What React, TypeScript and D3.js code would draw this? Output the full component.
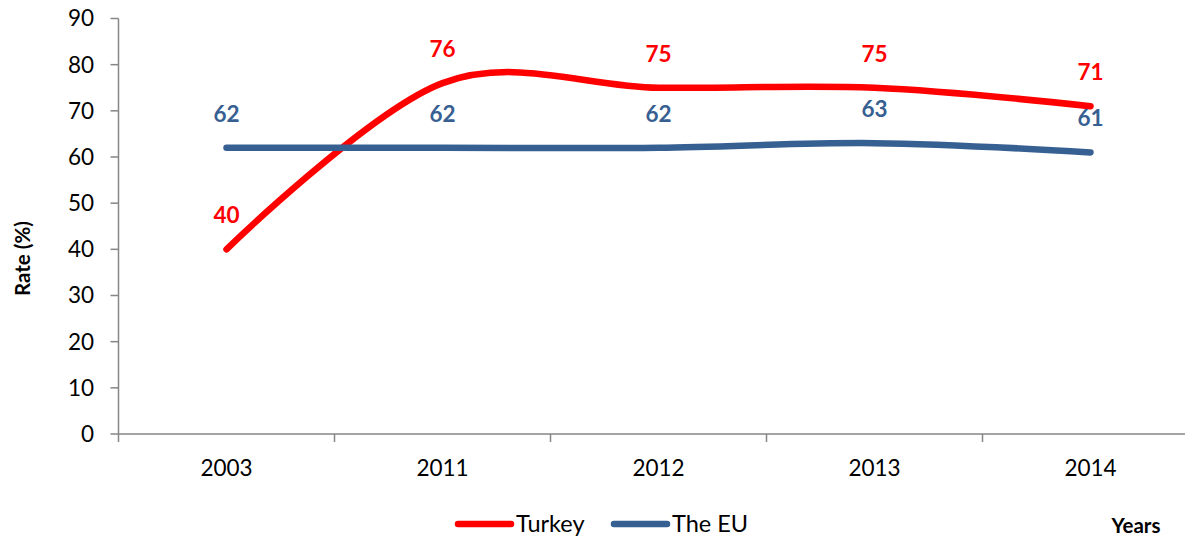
import React from "react";
import * as d3 from "d3";

const years = ["2003", "2011", "2012", "2013", "2014"];
const turkey = [40, 76, 75, 75, 71];
const eu = [62, 62, 62, 63, 61];
const yTicks = [0, 10, 20, 30, 40, 50, 60, 70, 80, 90];

const W = 1185;
const H = 539;
const FONT = "Lato, 'Open Sans', sans-serif";
const RED = "#ff0000";
const BLUE = "#376092";

export default function App() {
  const left = 118.5;
  const x = d3.scaleBand().domain(years).range([left, left + 216 * 5]).padding(0);
  const y = d3.scaleLinear().domain([0, 90]).range([434, 18.5]);
  const cx = (d: string) => (x(d) as number) + x.bandwidth() / 2;
  const line = d3
    .line<number>()
    .x((_, i) => cx(years[i]))
    .y((v) => y(v))
    .curve(d3.curveCardinal.tension(0));

  const series = [
    { name: "Turkey", values: turkey, color: RED },
    { name: "The EU", values: eu, color: BLUE },
  ];
  const boundaries = d3.range(0, years.length + 1).map((i) => left + i * x.bandwidth());

  return (
    <svg width={W} height={H} style={{ position: "absolute", left: 0, top: 0, background: "#fff" }}>
      {/* y axis */}
      <line x1={left} x2={left} y1={y(90)} y2={y(0)} stroke="#868686" strokeWidth={1.5} />
      {yTicks.map((t) => (
        <g key={t}>
          <line x1={left - 8} x2={left} y1={y(t)} y2={y(t)} stroke="#868686" strokeWidth={1.5} />
          <text x={94} y={y(t)} dy="0.35em" textAnchor="end" fontSize={22.5} fontFamily={FONT} fill="#000">
            {t}
          </text>
        </g>
      ))}
      {/* x axis */}
      <line x1={left} x2={W} y1={y(0)} y2={y(0)} stroke="#868686" strokeWidth={1.5} />
      {boundaries.map((b, i) => (
        <line key={i} x1={b} x2={b} y1={y(0)} y2={y(0) + 8} stroke="#868686" strokeWidth={1.5} />
      ))}
      {years.map((yr) => (
        <text key={yr} x={cx(yr)} y={468} dy="0.35em" textAnchor="middle" fontSize={22.5} fontFamily={FONT} fill="#000">
          {yr}
        </text>
      ))}
      {/* axis titles */}
      <text
        transform={`translate(23,${y(38)}) rotate(-90)`}
        textAnchor="middle"
        dy="0.35em"
        fontSize={20.5}
        fontWeight="bold"
        fontFamily={FONT}
      >
        Rate (%)
      </text>
      <text x={1136} y={526} dy="0.35em" textAnchor="middle" fontSize={20.5} fontWeight="bold" fontFamily={FONT}>
        Years
      </text>
      {/* lines */}
      {series.map((s) => (
        <path
          key={s.name}
          d={line(s.values) || ""}
          fill="none"
          stroke={s.color}
          strokeWidth={6.5}
          strokeLinecap="round"
          strokeLinejoin="round"
        />
      ))}
      {/* labels */}
      {series.map((s) =>
        s.values.map((v, i) => (
          <text
            key={s.name + i}
            x={cx(years[i])}
            y={y(v) - 34}
            dy="0.35em"
            textAnchor="middle"
            fontSize={22.5}
            fontWeight="bold"
            fontFamily={FONT}
            fill={s.color}
          >
            {v}
          </text>
        ))
      )}
      {/* legend */}
      {series.map((s, i) => {
        const lx = i === 0 ? 458 : 614;
        return (
          <g key={s.name}>
            <line x1={lx} x2={lx + 53} y1={524} y2={524} stroke={s.color} strokeWidth={6.5} strokeLinecap="round" />
            <text x={lx + 58} y={524} dy="0.35em" fontSize={23.5} fontFamily={FONT} fill="#000">
              {s.name}
            </text>
          </g>
        );
      })}
    </svg>
  );
}
